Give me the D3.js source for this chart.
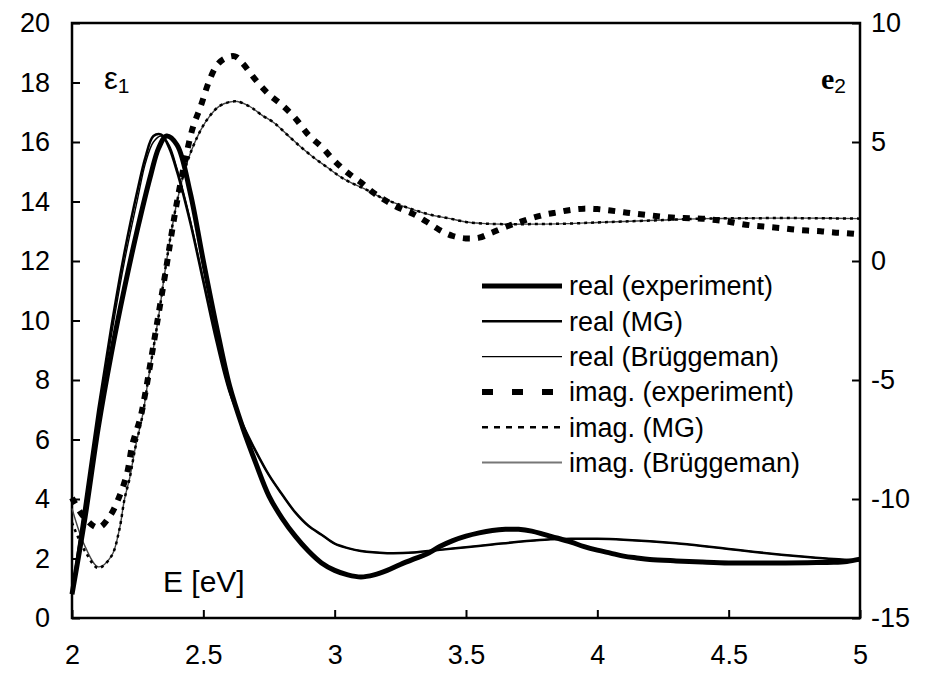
<!DOCTYPE html>
<html>
<head>
<meta charset="utf-8">
<script src="https://cdn.jsdelivr.net/npm/d3@7"></script>
<style>
  body { margin: 0; background: #fff; }
  svg text { font-family: "Liberation Sans", Arial, sans-serif; fill: #000; }
  .axis text { font-size: 27px; }
  .axis line { stroke: #000; stroke-width: 2px; }
  .legend text { font-size: 27px; }
</style>
</head>
<body>
<svg id="chart" width="932" height="679"></svg>
<script>
// photon energy E [eV] and the epsilon values

const realExpE = [2.00, 2.05, 2.10, 2.15, 2.20, 2.25, 2.30, 2.33, 2.36, 2.40, 2.45, 2.50, 2.55, 2.60, 2.65, 2.70, 2.75, 2.80, 2.85, 2.90, 2.95, 3.00, 3.05, 3.10, 3.15, 3.20, 3.25, 3.30, 3.35, 3.40, 3.45, 3.50, 3.55, 3.60, 3.65, 3.70, 3.75, 3.80, 3.85, 3.90, 3.95, 4.00, 4.05, 4.10, 4.15, 4.20, 4.30, 4.40, 4.50, 4.60, 4.70, 4.80, 4.90, 4.95, 5.00]
const realExp  = [0.8, 3.4, 6.4, 8.9, 11.1, 13.1, 14.9, 15.8, 16.2, 15.9, 14.3, 12.0, 9.8, 7.8, 6.4, 5.2, 4.1, 3.35, 2.75, 2.25, 1.85, 1.6, 1.45, 1.38, 1.45, 1.6, 1.8, 1.98, 2.15, 2.4, 2.6, 2.75, 2.86, 2.94, 2.98, 2.98, 2.92, 2.8, 2.68, 2.55, 2.4, 2.28, 2.18, 2.08, 2.02, 1.97, 1.92, 1.88, 1.85, 1.85, 1.85, 1.86, 1.87, 1.9, 1.98]

const realMgE = [2.00, 2.05, 2.10, 2.15, 2.20, 2.25, 2.28, 2.31, 2.34, 2.37, 2.40, 2.45, 2.50, 2.55, 2.60, 2.65, 2.70, 2.75, 2.80, 2.85, 2.90, 2.95, 3.00, 3.05, 3.10, 3.20, 3.30, 3.40, 3.50, 3.60, 3.70, 3.80, 3.90, 4.00, 4.10, 4.20, 4.30, 4.40, 4.50, 4.60, 4.70, 4.80, 4.90, 5.00]
const realMg  = [0.8, 3.9, 7.0, 9.8, 12.3, 14.4, 15.5, 16.2, 16.25, 15.8, 15.0, 13.3, 11.3, 9.3, 7.6, 6.5, 5.6, 4.8, 4.15, 3.55, 3.1, 2.8, 2.5, 2.35, 2.25, 2.18, 2.2, 2.29, 2.38, 2.47, 2.56, 2.63, 2.66, 2.66, 2.63, 2.58, 2.51, 2.42, 2.32, 2.22, 2.13, 2.05, 1.98, 1.93]
const realBrE = [2.00, 2.05, 2.10, 2.15, 2.20, 2.25, 2.28, 2.31, 2.34, 2.37, 2.40, 2.45, 2.50, 2.55, 2.60, 2.65, 2.70, 2.75, 2.80, 2.85, 2.90, 2.95, 3.00, 3.05, 3.10, 3.20, 3.30, 3.40, 3.50, 3.60, 3.70, 3.80, 3.90, 4.00, 4.10, 4.20, 4.30, 4.40, 4.50, 4.60, 4.70, 4.80, 4.90, 5.00]
const realBr  = [0.8, 3.7, 6.7, 9.5, 12.0, 14.1, 15.3, 16.0, 16.2, 15.9, 15.1, 13.4, 11.4, 9.4, 7.7, 6.5, 5.6, 4.8, 4.15, 3.55, 3.1, 2.8, 2.5, 2.35, 2.25, 2.18, 2.2, 2.29, 2.38, 2.47, 2.56, 2.63, 2.66, 2.66, 2.63, 2.58, 2.51, 2.42, 2.32, 2.22, 2.13, 2.05, 1.98, 1.93]

const imagExpE = [2.00, 2.045, 2.10, 2.145, 2.18, 2.21, 2.23, 2.26, 2.28, 2.30, 2.33, 2.36, 2.38, 2.40, 2.43, 2.46, 2.49, 2.52, 2.55, 2.58, 2.62, 2.65, 2.70, 2.75, 2.80, 2.85, 2.90, 2.95, 3.00, 3.05, 3.10, 3.15, 3.20, 3.25, 3.30, 3.35, 3.40, 3.45, 3.50, 3.55, 3.60, 3.65, 3.70, 3.75, 3.80, 3.85, 3.90, 3.95, 4.00, 4.05, 4.10, 4.15, 4.20, 4.25, 4.30, 4.35, 4.40, 4.45, 4.50, 4.55, 4.60, 4.65, 4.70, 4.75, 4.80, 4.85, 4.90, 4.95, 5.00]
const imagExp  = [-9.95, -10.75, -11.2, -10.7, -9.9, -8.9, -7.7, -6.6, -5.5, -4.2, -2.2, -0.2, 1.2, 2.5, 4.2, 5.6, 6.5, 7.5, 8.2, 8.5, 8.6, 8.3, 7.6, 7.0, 6.55, 6.0, 5.3, 4.8, 4.2, 3.7, 3.3, 2.85, 2.5, 2.2, 1.97, 1.65, 1.3, 1.05, 0.95, 0.98, 1.2, 1.43, 1.62, 1.8, 1.95, 2.05, 2.15, 2.2, 2.18, 2.12, 2.05, 1.98, 1.92, 1.86, 1.81, 1.8, 1.78, 1.72, 1.65, 1.55, 1.48, 1.43, 1.38, 1.32, 1.28, 1.25, 1.2, 1.17, 1.12]

const imagMgE = [2.00, 2.05, 2.10, 2.15, 2.18, 2.20, 2.22, 2.24, 2.27, 2.29, 2.33, 2.36, 2.40, 2.44, 2.49, 2.525, 2.56, 2.60, 2.63, 2.68, 2.72, 2.77, 2.82, 2.87, 2.92, 2.97, 3.02, 3.06, 3.12, 3.18, 3.25, 3.31, 3.37, 3.44, 3.50, 3.56, 3.63, 3.75, 3.88, 4.00, 4.10, 4.25, 4.40, 4.60, 4.80, 5.00]
const imagMg  = [-11.0, -12.2, -12.9, -12.4, -11.3, -10.0, -9.1, -7.9, -6.4, -5.0, -2.3, 0.0, 2.5, 4.2, 5.5, 6.1, 6.5, 6.68, 6.7, 6.47, 6.15, 5.8, 5.3, 4.8, 4.35, 3.95, 3.55, 3.3, 3.0, 2.65, 2.35, 2.12, 1.93, 1.78, 1.64, 1.58, 1.55, 1.55, 1.57, 1.62, 1.66, 1.72, 1.78, 1.8, 1.8, 1.78]
const imagBr  = [-10.4, -12.0, -12.85, -12.4, -11.3, -10.0, -9.1, -7.9, -6.4, -5.0, -2.3, 0.0, 2.5, 4.2, 5.5, 6.1, 6.5, 6.68, 6.7, 6.47, 6.15, 5.8, 5.3, 4.8, 4.35, 3.95, 3.55, 3.3, 3.0, 2.65, 2.35, 2.12, 1.93, 1.78, 1.64, 1.58, 1.55, 1.55, 1.57, 1.62, 1.66, 1.72, 1.78, 1.8, 1.8, 1.78]

const xTicks = [2, 2.5, 3, 3.5, 4, 4.5, 5]
const leftTicks = [0, 2, 4, 6, 8, 10, 12, 14, 16, 18, 20]
const rightTicks = [-15, -10, -5, 0, 5, 10]

const legendLabels = ['real (experiment)', 'real (MG)', 'real (Brüggeman)', 'imag. (experiment)', 'imag. (MG)', 'imag. (Brüggeman)']

const frame = {width: 932, height: 679, top: 23, right: 72, bottom: 61, left: 72}
const innerW = frame.width - frame.left - frame.right
const innerH = frame.height - frame.top - frame.bottom

const svg = d3.select('#chart')
const g = svg.append('g').attr('transform', 'translate(' + frame.left + ',' + frame.top + ')')

const x = d3.scaleLinear().domain([2, 5]).range([0, innerW])
const y1 = d3.scaleLinear().domain([0, 20]).range([innerH, 0])
const y2 = d3.scaleLinear().domain([-15, 10]).range([innerH, 0])

// axes, ticks pointing into the plot
const xAx = g.append('g').attr('class', 'axis').attr('transform', 'translate(0,' + innerH + ')')
  .call(d3.axisBottom(x).tickValues(xTicks).tickSize(-8).tickPadding(27).tickFormat(d3.format('')))
const lAx = g.append('g').attr('class', 'axis')
  .call(d3.axisLeft(y1).tickValues(leftTicks).tickSize(-8).tickPadding(22).tickFormat(d3.format('d')))
const rAx = g.append('g').attr('class', 'axis').attr('transform', 'translate(' + innerW + ',0)')
  .call(d3.axisRight(y2).tickValues(rightTicks).tickSize(-8).tickPadding(11).tickFormat(d => d < 0 ? '-' + Math.abs(d) : d))
g.selectAll('.axis .domain').remove()
xAx.selectAll('text').attr('dy', '0.71em')

g.append('rect').attr('x', 0).attr('y', 0).attr('width', innerW).attr('height', innerH)
  .attr('fill', 'none').attr('stroke', '#000').attr('stroke-width', 2.5)

function series(xs, ys, yScale) { return xs.map((e, i) => [x(e), yScale(ys[i])]) }
const line = d3.line().curve(d3.curveCatmullRom.alpha(0.5))

const styles = [
  {w: 5, dash: null, color: '#000', legDash: null},
  {w: 2.5, dash: null, color: '#000', legDash: null},
  {w: 1.4, dash: null, color: '#000', legDash: null},
  {w: 6, dash: '7,8', color: '#000', legDash: '11,19'},
  {w: 2.5, dash: '3,4', color: '#000', legDash: '6,6'},
  {w: 1.4, dash: null, color: '#444', legDash: null}
]

const curves = [
  {pts: series(imagMgE, imagBr, y2), s: styles[5]},
  {pts: series(imagMgE, imagMg, y2), s: styles[4]},
  {pts: series(imagExpE, imagExp, y2), s: styles[3]},
  {pts: series(realBrE, realBr, y1), s: styles[2]},
  {pts: series(realMgE, realMg, y1), s: styles[1]},
  {pts: series(realExpE, realExp, y1), s: styles[0]}
]

g.selectAll('path.curve').data(curves).enter().append('path')
  .attr('class', 'curve')
  .attr('d', d => line(d.pts))
  .attr('fill', 'none')
  .attr('stroke', d => d.s.color)
  .attr('stroke-width', d => d.s.w)
  .attr('stroke-dasharray', d => d.s.dash)
  .attr('stroke-linejoin', 'round')

// legend
const leg = svg.append('g').attr('class', 'legend')
legendLabels.forEach((lab, i) => {
  const ly = 286 + i * 35.3
  const s = styles[i]
  leg.append('line').attr('x1', 482).attr('x2', 562).attr('y1', ly).attr('y2', ly)
    .attr('stroke', i === 5 ? '#777' : '#000').attr('stroke-width', i === 5 ? 2 : s.w)
    .attr('stroke-dasharray', s.legDash)
  leg.append('text').attr('x', 569).attr('y', ly).attr('dy', '0.35em').text(lab)
})

// axis labels
const eps1 = svg.append('text').attr('x', 104).attr('y', 89).style('font-size', '31px')
eps1.append('tspan').text('ε')
eps1.append('tspan').attr('dy', 4).style('font-size', '21px').text('1')
const eps2 = svg.append('text').attr('x', 821).attr('y', 89)
eps2.append('tspan').style('font-family', '"Liberation Serif", "Times New Roman", serif')
  .style('font-weight', 'bold').style('font-size', '30px').text('e')
eps2.append('tspan').attr('dy', 4).style('font-size', '21px').text('2')

svg.append('text').attr('x', 163).attr('y', 592).style('font-size', '30px').text('E [eV]')
</script>
</body>
</html>
